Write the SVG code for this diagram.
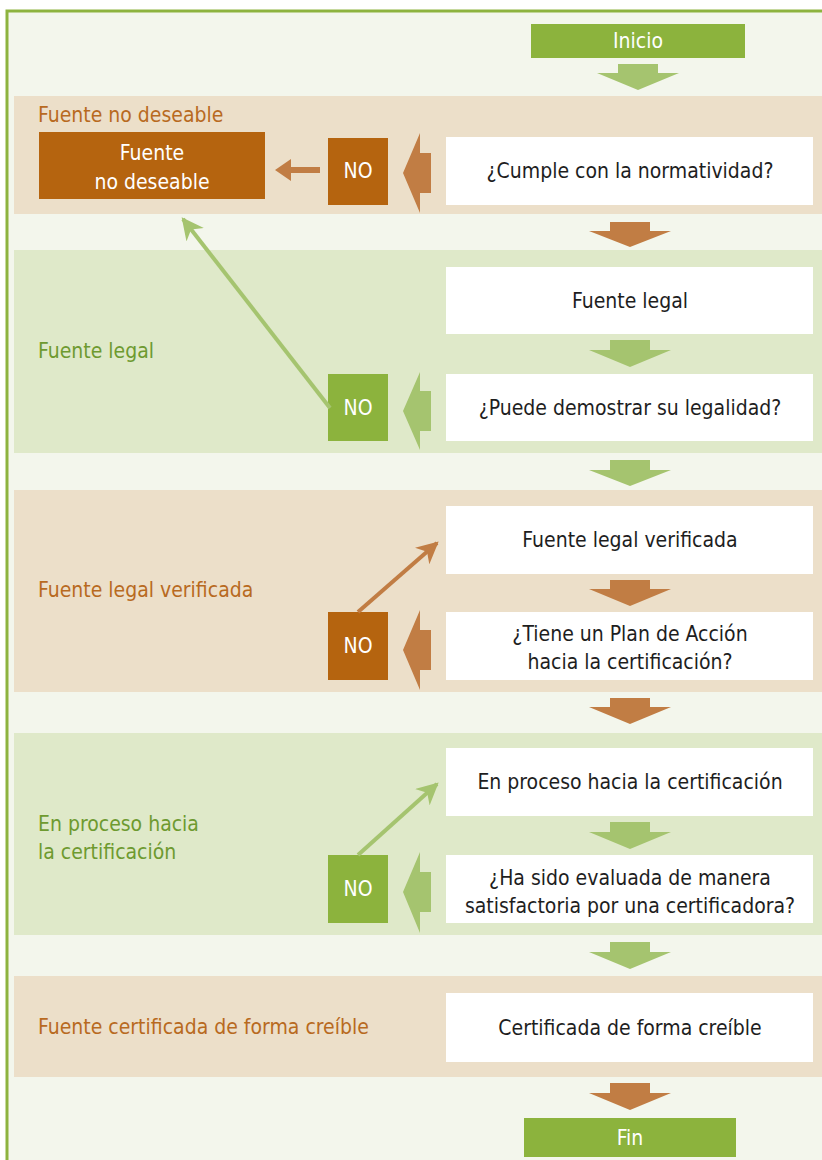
<svg xmlns="http://www.w3.org/2000/svg" width="822" height="1160" viewBox="0 0 822 1160">
<style>
.band-t{fill:#ecdfc9}
.band-g{fill:#dfe9c9}
.wbox{fill:#ffffff}
.bbox{fill:#b5640f}
.gbox{fill:#8cb33d}
.barr{fill:#c17d44}
.garr{fill:#a5c46f}
text{font-family:"DejaVu Sans Condensed","DejaVu Sans","Liberation Sans",sans-serif;font-stretch:condensed;font-size:21px}
.t{fill:#1e1e1e;text-anchor:middle}
.w{fill:#ffffff;text-anchor:middle}
.lb{fill:#b86a1f}
.lg{fill:#6e9a30}
</style>
<defs>
<marker id="mg" viewBox="0 0 10 10" refX="9" refY="5" markerWidth="5.5" markerHeight="5.5" orient="auto" markerUnits="strokeWidth">
<path d="M0,0 L10,5 L0,10 L3,5 Z" fill="#a5c46f"/>
</marker>
<marker id="mb" viewBox="0 0 10 10" refX="9" refY="5" markerWidth="5.5" markerHeight="5.5" orient="auto" markerUnits="strokeWidth">
<path d="M0,0 L10,5 L0,10 L3,5 Z" fill="#c17d44"/>
</marker>
</defs>
<rect x="0" y="0" width="822" height="1160" fill="#ffffff"/>
<rect x="8" y="11" width="814" height="1149" fill="#f3f6ec"/>
<path d="M7,1160 L7,11 L822,11" fill="none" stroke="#8db33f" stroke-width="3"/>

<g id="bands">
<rect class="band-t" x="14" y="96" width="808" height="118"/>
<rect class="band-g" x="14" y="250" width="808" height="203"/>
<rect class="band-t" x="14" y="490" width="808" height="202"/>
<rect class="band-g" x="14" y="733" width="808" height="202"/>
<rect class="band-t" x="14" y="976" width="808" height="101"/>
</g>

<g id="labels">
<text class="lb" x="38" y="122">Fuente no deseable</text>
<text class="lg" x="38" y="358">Fuente legal</text>
<text class="lb" x="38" y="597">Fuente legal verificada</text>
<text class="lg" x="38" y="831">En proceso hacia</text>
<text class="lg" x="38" y="859">la certificación</text>
<text class="lb" x="38" y="1034">Fuente certificada de forma creíble</text>
</g>

<g id="inicio">
<rect class="gbox" x="531" y="24" width="214" height="34"/>
<text class="w" x="638" y="48">Inicio</text>
</g>

<g id="fuente-no-deseable">
<rect class="bbox" x="39" y="132" width="226" height="67"/>
<text class="w" x="152" y="160">Fuente</text>
<text class="w" x="152" y="189">no deseable</text>
</g>

<g id="q1">
<rect class="wbox" x="446" y="137" width="367" height="68"/>
<text class="t" x="630" y="178">¿Cumple con la normatividad?</text>
</g>
<g id="no1">
<rect class="bbox" x="328" y="138" width="60" height="67"/>
<text class="w" x="358" y="178">NO</text>
</g>

<g id="fuente-legal">
<rect class="wbox" x="446" y="267" width="367" height="67"/>
<text class="t" x="630" y="308">Fuente legal</text>
</g>
<g id="q2">
<rect class="wbox" x="446" y="374" width="367" height="67"/>
<text class="t" x="630" y="415">¿Puede demostrar su legalidad?</text>
</g>
<g id="no2">
<rect class="gbox" x="328" y="374" width="60" height="67"/>
<text class="w" x="358" y="415">NO</text>
</g>

<g id="fuente-legal-verificada">
<rect class="wbox" x="446" y="506" width="367" height="68"/>
<text class="t" x="630" y="547">Fuente legal verificada</text>
</g>
<g id="q3">
<rect class="wbox" x="446" y="612" width="367" height="68"/>
<text class="t" x="630" y="641">¿Tiene un Plan de Acción</text>
<text class="t" x="630" y="669">hacia la certificación?</text>
</g>
<g id="no3">
<rect class="bbox" x="328" y="612" width="60" height="68"/>
<text class="w" x="358" y="653">NO</text>
</g>

<g id="en-proceso">
<rect class="wbox" x="446" y="748" width="367" height="68"/>
<text class="t" x="630" y="789">En proceso hacia la certificación</text>
</g>
<g id="q4">
<rect class="wbox" x="446" y="855" width="367" height="68"/>
<text class="t" x="630" y="885">¿Ha sido evaluada de manera</text>
<text class="t" x="630" y="913">satisfactoria por una certificadora?</text>
</g>
<g id="no4">
<rect class="gbox" x="328" y="855" width="60" height="68"/>
<text class="w" x="358" y="896">NO</text>
</g>

<g id="certificada">
<rect class="wbox" x="446" y="993" width="367" height="69"/>
<text class="t" x="630" y="1035">Certificada de forma creíble</text>
</g>

<g id="fin">
<rect class="gbox" x="524" y="1118" width="212" height="39"/>
<text class="w" x="630" y="1145">Fin</text>
</g>

<g id="connectors">
<!-- down arrows -->
<path class="garr" d="M618,64 H658 V73 H679 L638,90 L597,73 H618 Z"/>
<path class="barr" d="M610,222 H650 V231 H671 L630,247 L589,231 H610 Z"/>
<path class="garr" d="M610,340 H650 V350 H671 L630,367 L589,350 H610 Z"/>
<path class="garr" d="M610,460 H650 V470 H671 L630,486 L589,470 H610 Z"/>
<path class="barr" d="M610,580 H650 V589 H671 L630,606 L589,589 H610 Z"/>
<path class="barr" d="M610,698 H650 V707 H671 L630,724 L589,707 H610 Z"/>
<path class="garr" d="M610,822 H650 V832 H671 L630,849 L589,832 H610 Z"/>
<path class="garr" d="M610,942 H650 V952 H671 L630,969 L589,952 H610 Z"/>
<path class="barr" d="M610,1083 H650 V1093 H671 L630,1110 L589,1093 H610 Z"/>
<!-- big left arrows -->
<path class="barr" d="M431,153 V193 H420 V213 L403,173 L420,133 V153 Z"/>
<path class="garr" d="M431,391 V431 H420 V450 L403,411 L420,372 V391 Z"/>
<path class="barr" d="M431,630 V670 H420 V690 L403,650 L420,610 V630 Z"/>
<path class="garr" d="M431,872 V912 H420 V933 L403,892 L420,852 V872 Z"/>
<!-- NO to fuente no deseable -->
<path class="barr" d="M320,167 V173 H291 V181 L275,170 L291,159 V167 Z"/>
<!-- diagonal arrows -->
<line x1="330" y1="408" x2="183" y2="219" stroke="#a5c46f" stroke-width="4" marker-end="url(#mg)"/>
<line x1="358" y1="612" x2="437" y2="543" stroke="#c17d44" stroke-width="4" marker-end="url(#mb)"/>
<line x1="358" y1="855" x2="437" y2="784" stroke="#a5c46f" stroke-width="4" marker-end="url(#mg)"/>
</g>
</svg>
